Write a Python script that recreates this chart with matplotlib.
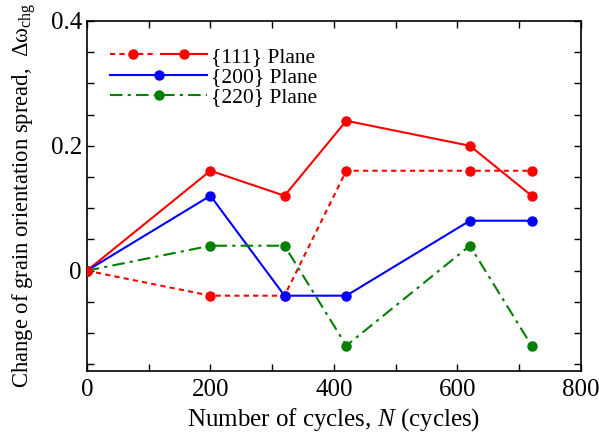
import numpy as np
import matplotlib.pyplot as plt
from matplotlib.legend_handler import HandlerTuple

plt.rcParams['font.family'] = ['Liberation Serif', 'DejaVu Serif']
plt.rcParams['mathtext.fontset'] = 'custom'
plt.rcParams['mathtext.rm'] = 'Liberation Serif'
plt.rcParams['mathtext.it'] = 'Liberation Serif:italic'

cycles = [0, 200, 320, 420, 620, 720]
p111_solid = [0, 0.16, 0.12, 0.24, 0.20, 0.12]
p111_dash = [0, -0.04, -0.04, 0.16, 0.16, 0.16]
p200 = [0, 0.12, -0.04, -0.04, 0.08, 0.08]
p220 = [0, 0.04, 0.04, -0.12, 0.04, -0.12]

fig = plt.figure(figsize=(5.99, 4.34), dpi=100)
ax = fig.add_axes([0.145, 0.146, 0.825, 0.806])

kw = dict(marker='o', markersize=6.5, linewidth=1.5)
l1, = ax.plot(cycles, p111_solid, color='#ff0000', **kw)
l1d, = ax.plot(cycles, p111_dash, color='#ff0000', linestyle=(0, (2.5, 2)), **kw)
l2, = ax.plot(cycles, p200, color='#0000ff', **kw)
l3, = ax.plot(cycles, p220, color='#008000', linestyle=(0, (6, 2.5, 1.5, 2.5)), **kw)
# red start point sits on top of the others
ax.plot(cycles[:1], p111_solid[:1], 'o', color='#ff0000', markersize=6.5, zorder=5)

ax.set_xlim(0, 800)
ax.set_ylim(-0.16, 0.4)
ax.set_xticks([0, 200, 400, 600, 800])
ax.set_xticks(np.arange(0, 801, 100), minor=True)
ax.set_yticks([0, 0.2, 0.4])
ax.set_yticklabels(['0', '0.2', '0.4'])
ax.set_yticks(np.arange(-0.15, 0.41, 0.05), minor=True)
ax.tick_params(which='both', direction='in', top=True, right=True, labelsize=18, width=1, length=5)
ax.tick_params(axis='x', pad=6)
for s in ax.spines.values():
    s.set_linewidth(1.2)

ax.set_xlabel('Number of cycles, $\\mathit{N}$ (cycles)', fontsize=18, labelpad=4)
ax.set_ylabel('Change of grain orientation spread,  Δω$_{\\mathrm{chg}}$', fontsize=16.3, labelpad=9)

ax.legend([(l1d, l1), l2, l3], ['{111} Plane', '{200} Plane', '{220} Plane'],
          handler_map={tuple: HandlerTuple(ndivide=None, pad=0.2)},
          loc='upper left', bbox_to_anchor=(0.03, 0.95), frameon=False, fontsize=15.5,
          handlelength=4.5, handletextpad=0.2, labelspacing=0.0, borderaxespad=0)

fig.savefig('out.png', dpi=100)
